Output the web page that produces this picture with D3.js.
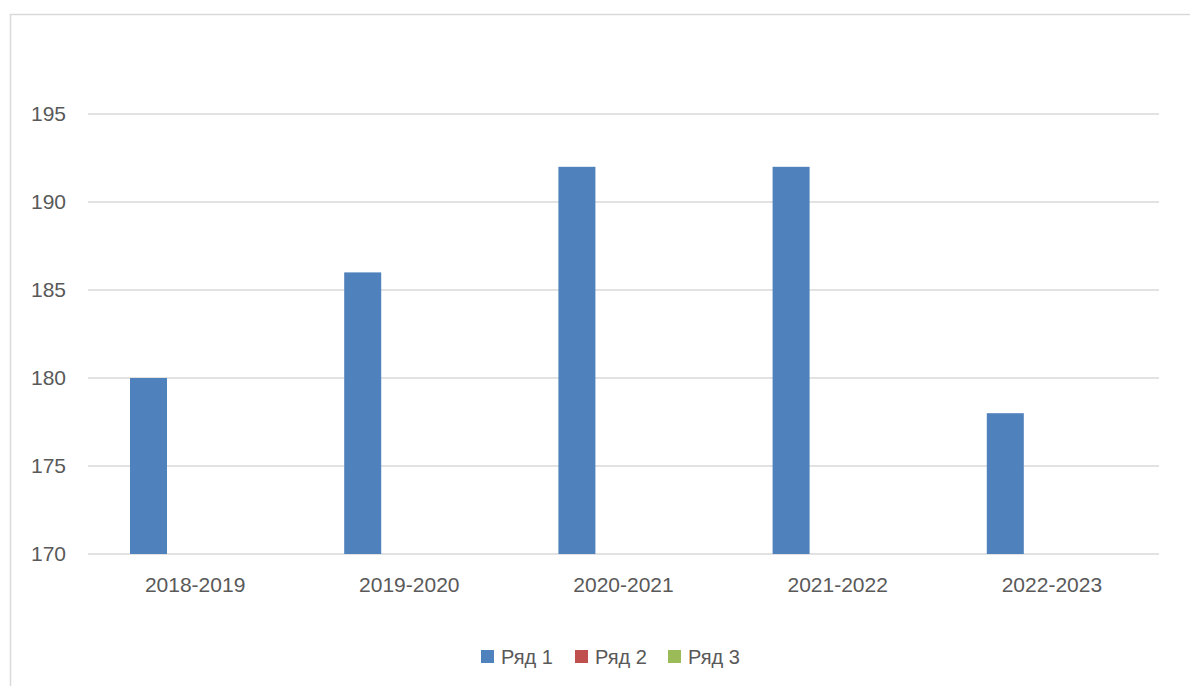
<!DOCTYPE html>
<html>
<head>
<meta charset="utf-8">
<script src="https://cdn.jsdelivr.net/npm/d3@7"></script>
<style>
  body { margin: 0; background: #fff; }
  text { font-family: "Liberation Sans", Arial, sans-serif; fill: #595959; }
</style>
</head>
<body>
<div id="chart-area"></div>
<script>
// data
const categories = ["2018-2019", "2019-2020", "2020-2021", "2021-2022", "2022-2023"]
const seriesNames = ["Ряд 1", "Ряд 2", "Ряд 3"]
const ser1 = [180, 186, 192, 192, 178]
const ser2 = [null, null, null, null, null]
const ser3 = [null, null, null, null, null]
const yTicks = [170, 175, 180, 185, 190, 195]
const colors = ["#4f81bd", "#c0504d", "#9bbb59"]

const W = 1190, H = 686
const MARGIN = { LEFT: 88, RIGHT: 31, TOP: 114, BOTTOM: 132 }

const svg = d3.select("#chart-area").append("svg")
  .attr("width", W)
  .attr("height", H)

// chart frame
svg.append("rect")
  .attr("x", 10.5).attr("y", 14.5)
  .attr("width", W).attr("height", H)
  .attr("fill", "none")
  .attr("stroke", "#d9d9d9")
  .attr("stroke-width", 1.5)

const x = d3.scaleBand()
  .domain(categories)
  .range([MARGIN.LEFT, W - MARGIN.RIGHT])

const bw = x.bandwidth()
const xs = d3.scaleBand()
  .domain(seriesNames)
  .range([bw * 42 / 214.2, bw * 153 / 214.2])

const y = d3.scaleLinear()
  .domain([170, 195])
  .range([H - MARGIN.BOTTOM, MARGIN.TOP])

// gridlines
svg.append("g")
  .selectAll("line")
  .data(yTicks)
  .enter().append("line")
  .attr("x1", MARGIN.LEFT)
  .attr("x2", W - MARGIN.RIGHT)
  .attr("y1", d => y(d))
  .attr("y2", d => y(d))
  .attr("stroke", "#d9d9d9")
  .attr("stroke-width", 1.5)

// y labels
const yAxis = d3.axisLeft(y).tickValues(yTicks).tickSize(0).tickPadding(22)
svg.append("g")
  .attr("transform", `translate(${MARGIN.LEFT}, 0)`)
  .call(yAxis)
  .call(g => g.select(".domain").remove())
  .selectAll("text")
    .attr("font-size", "21px")
    .attr("font-family", "Liberation Sans, Arial, sans-serif")
    .attr("fill", "#595959")

// x labels
const xAxis = d3.axisBottom(x).tickSize(0).tickPadding(23)
svg.append("g")
  .attr("transform", `translate(0, ${H - MARGIN.BOTTOM})`)
  .call(xAxis)
  .call(g => g.select(".domain").remove())
  .selectAll("text")
    .attr("font-size", "21px")
    .attr("font-family", "Liberation Sans, Arial, sans-serif")
    .attr("fill", "#595959")

// bars
const allSeries = [ser1, ser2, ser3]
allSeries.forEach((vals, si) => {
  const data = categories.map((c, i) => ({ cat: c, v: vals[i] })).filter(d => d.v != null)
  svg.append("g").selectAll("rect")
    .data(data)
    .enter().append("rect")
    .attr("x", d => x(d.cat) + xs(seriesNames[si]))
    .attr("y", d => y(d.v))
    .attr("width", xs.bandwidth())
    .attr("height", d => y(170) - y(d.v))
    .attr("fill", colors[si])
})

// legend
const legendX = [481, 575, 668]
const leg = svg.append("g")
seriesNames.forEach((s, i) => {
  leg.append("rect")
    .attr("x", legendX[i]).attr("y", 650)
    .attr("width", 13).attr("height", 13)
    .attr("fill", colors[i])
  leg.append("text")
    .attr("x", legendX[i] + 20).attr("y", 664)
    .attr("font-size", "20px")
    .text(s)
})
</script>
</body>
</html>
